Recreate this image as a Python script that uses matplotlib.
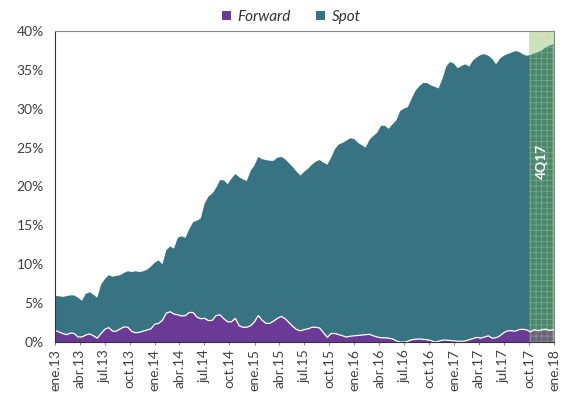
import datetime as dt
import numpy as np
import pandas as pd
import matplotlib
matplotlib.use("Agg")
import matplotlib.pyplot as plt
import matplotlib.dates as mdates

plt.rcParams['font.family'] = ['Lato', 'DejaVu Sans']
plt.rcParams['hatch.linewidth'] = 0.6

# valores quincenales (%)
total = [5.9, 5.9, 5.8, 5.9, 6.0, 6.0, 5.7, 5.3, 6.2, 6.4,
         6.1, 5.7, 7.4, 8.1, 8.6, 8.4, 8.5, 8.6, 8.9, 9.1,
         9.0, 9.1, 9.0, 9.1, 9.3, 9.7, 10.2, 10.5, 10.0, 11.8,
         12.3, 12.0, 13.4, 13.6, 13.4, 14.5, 15.4, 15.6, 15.9, 17.8,
         18.7, 19.1, 19.8, 20.8, 20.8, 20.3, 21.0, 21.6, 21.2, 20.9,
         20.7, 22.0, 22.7, 23.8, 23.5, 23.4, 23.3, 23.3, 23.7, 23.8,
         23.5, 23.0, 22.5, 21.9, 21.4, 21.9, 22.3, 22.8, 23.2, 23.4,
         23.05, 22.8, 23.7, 24.8, 25.4, 25.6, 25.9, 26.2, 26.1, 25.6,
         25.3, 25.0, 26.0, 26.5, 26.9, 27.8, 27.8, 27.4, 28.0, 28.5,
         29.7, 30.0, 30.2, 31.3, 32.3, 32.9, 33.3, 33.3, 33.0, 32.8,
         32.6, 33.8, 35.4, 36.0, 35.8, 35.2, 35.5, 35.7, 35.4, 36.2,
         36.6, 36.9, 37.0, 36.8, 36.4, 35.7, 36.4, 36.8, 37.0, 37.2,
         37.4, 37.3, 37.0, 36.8, 36.9, 37.1, 37.3, 37.5, 37.9, 38.1,
         38.3]

forward = [1.5, 1.3, 1.1, 0.95, 1.15, 1.1, 0.65, 0.65, 0.9, 1.05,
           0.8, 0.5, 1.1, 1.65, 1.85, 1.4, 1.4, 1.7, 1.95, 1.9,
           1.35, 1.2, 1.25, 1.4, 1.55, 1.7, 2.3, 2.4, 2.8, 3.7,
           3.9, 3.6, 3.5, 3.35, 3.4, 3.8, 3.8, 3.2, 3.0, 3.05,
           2.75, 2.8, 3.4, 3.5, 3.0, 2.6, 2.6, 3.05, 2.1, 1.9,
           1.9, 2.1, 2.6, 3.4, 2.8, 2.4, 2.4, 2.7, 3.05, 3.3,
           3.0, 2.5, 2.0, 1.6, 1.45, 1.6, 1.7, 1.9, 1.9, 1.8,
           1.2, 0.6, 1.1, 1.1, 0.95, 0.8, 0.65, 0.75, 0.8, 0.85,
           0.9, 0.95, 1.0, 0.8, 0.65, 0.55, 0.55, 0.5, 0.4, 0.15,
           0.0, 0.0, 0.1, 0.3, 0.35, 0.4, 0.35, 0.3, 0.2, 0.0,
           0.1, 0.25, 0.25, 0.2, 0.15, 0.1, 0.1, 0.15, 0.3, 0.45,
           0.6, 0.5, 0.65, 0.8, 0.5, 0.55, 0.8, 1.2, 1.45, 1.45,
           1.4, 1.6, 1.65, 1.55, 1.3, 1.6, 1.45, 1.6, 1.65, 1.5,
           1.6]

spot = np.array(total) - np.array(forward)
fechas = pd.date_range('2013-01-01', '2017-12-30', periods=len(total))

meses = ['ene', 'abr', 'jul', 'oct']
ticks = pd.date_range('2013-01-01', '2018-01-01', freq='QS')
tick_labels = ['{}.{}'.format(meses[(t.month - 1) // 3], str(t.year)[2:]) for t in ticks]

c_fwd = '#6b3a96'
c_spot = '#387383'

fig = plt.figure(figsize=(5.62, 4.01), dpi=100)
ax = fig.add_axes([0.098, 0.147, 0.888, 0.776])

ax.stackplot(fechas, forward, spot, colors=[c_fwd, c_spot], labels=['Forward', 'Spot'])
ax.plot(fechas, forward, color='white', lw=0.9)

# banda 4Q17
ax.axvspan(dt.datetime(2017, 10, 1), dt.datetime(2018, 1, 1), facecolor='#70ad47',
           alpha=0.35, edgecolor='#c4e6ad', hatch='+++', lw=0)
ax.text(dt.datetime(2017, 11, 18), 23.2, '4Q17', rotation=90, color='white',
        fontsize=10, fontweight='bold', ha='center', va='center')

ax.set_xlim(dt.datetime(2013, 1, 1), dt.datetime(2018, 1, 1))
ax.set_ylim(0, 40)
ax.set_xticks(ticks)
ax.set_xticklabels(tick_labels, rotation=90, fontsize=10, color='#404040')
ax.set_yticks(range(0, 41, 5))
ax.set_yticklabels(['{}%'.format(v) for v in range(0, 41, 5)], fontsize=10, color='#404040')
ax.tick_params(axis='y', length=0, pad=8)
ax.tick_params(axis='x', length=2, color='#888888', pad=3)

for s in ['top', 'right']:
    ax.spines[s].set_color('#888888')
ax.spines['left'].set_color('#333333')
ax.spines['bottom'].set_color('#333333')

ax.legend(loc='center', bbox_to_anchor=(0.473, 1.045), ncol=2, frameon=False,
          prop={'style': 'italic', 'size': 11}, handlelength=0.6, handleheight=0.6,
          columnspacing=1.7, handletextpad=0.4, labelcolor='#333333')

fig.savefig('out.png', dpi=100)
